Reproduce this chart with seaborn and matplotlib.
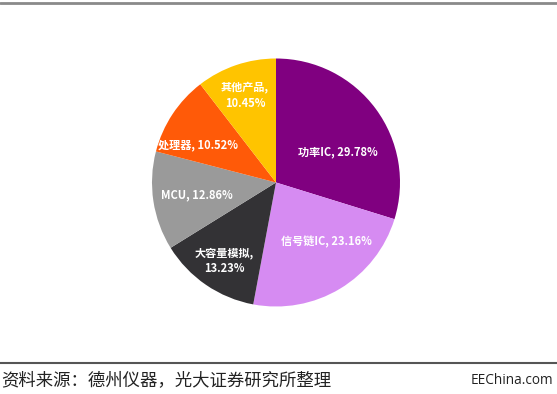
import matplotlib
matplotlib.use('Agg')
import matplotlib.pyplot as plt
import seaborn as sns
import numpy as np

categories = ['功率IC', '信号链IC', '大容量模拟', 'MCU', '处理器', '其他产品']
shares = [29.78, 23.16, 13.23, 12.86, 10.52, 10.45]
colors = ['#800080', '#D68BF2', '#333235', '#9A9A9A', '#FF5A08', '#FFC400']
# label text layout: some labels are split over two lines
label_sep = [', ', ', ', ',\n', ', ', ', ', ',\n']
label_pos = [(0.50, 0.25), (0.41, -0.48), (-0.42, -0.63),
             (-0.64, -0.10), (-0.63, 0.30), (-0.25, 0.70)]

sns.set_theme(style='white')
plt.rcParams['font.family'] = ['Noto Sans CJK SC', 'DejaVu Sans']

fig = plt.figure(figsize=(5.57, 3.94), dpi=100)
ax = fig.add_axes([152 / 557, 1 - 306.5 / 394, 248 / 557, 248 / 394])

ax.pie(shares, colors=sns.color_palette(colors), startangle=90, counterclock=False,
       wedgeprops=dict(linewidth=0))
ax.set_xlim(-1, 1)
ax.set_ylim(-1, 1)
ax.set_aspect('equal')
ax.axis('off')

for cat, val, sep, (x, y) in zip(categories, shares, label_sep, label_pos):
    ax.text(x, y, f'{cat}{sep}{val:.2f}%', color='white', fontsize=8, fontweight='bold',
            ha='center', va='center', linespacing=1.2)

# frame lines of the report figure
fig.add_artist(plt.Line2D([0, 1], [1 - 3 / 394, 1 - 3 / 394], color='#8a8a8a', lw=2))
fig.add_artist(plt.Line2D([0, 1], [1 - 363 / 394, 1 - 363 / 394], color='#555555', lw=1.5))

fig.text(1 / 557, 1 - 380 / 394, '资料来源：德州仪器，光大证券研究所整理', fontsize=12.5,
         color='#222222', ha='left', va='center')
fig.text(553 / 557, 1 - 380 / 394, 'EEChina.com', fontsize=9.8, color='#222222',
         ha='right', va='center', family=['Open Sans', 'DejaVu Sans'])

fig.savefig('out.png', dpi=100)
